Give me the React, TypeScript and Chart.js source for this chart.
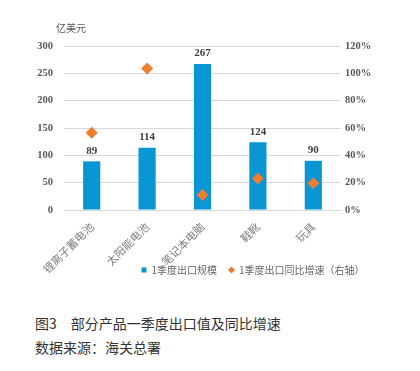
import React, { useEffect, useRef } from 'react';
import { Chart, registerables } from 'chart.js';

Chart.register(...registerables);

const categories = ['锂离子蓄电池', '太阳能电池', '笔记本电脑', '鞋靴', '玩具'];
const exportValues = [89, 114, 267, 124, 90];
const growthRates = [56.5, 103.5, 11, 23, 19.5];
const seriesNames = ['1季度出口规模', '1季度出口同比增速（右轴）'];
const leftAxis = { min: 0, max: 300, step: 50 };
const rightAxis = { min: 0, max: 120, step: 20 };
const unitLabel = '亿美元';
const captionTitle = '图3　部分产品一季度出口值及同比增速';
const captionSource = '数据来源：海关总署';

const SERIF = '"Liberation Serif", "Times New Roman", serif';
const CJK = '"Noto Sans CJK SC", sans-serif';

const barLabelPlugin = {
  id: 'barLabels',
  afterDatasetsDraw(chart: any) {
    const meta = chart.getDatasetMeta(0);
    const ctx = chart.ctx;
    ctx.save();
    ctx.font = `bold 11px ${SERIF}`;
    ctx.fillStyle = '#404040';
    ctx.textAlign = 'center';
    ctx.textBaseline = 'bottom';
    meta.data.forEach((el: any, i: number) => {
      ctx.fillText(String(chart.data.datasets[0].data[i]), el.x, el.y - 5);
    });
    ctx.restore();
  },
};

// shift the built-in legend to the right, as in the reference
const legendShiftPlugin = {
  id: 'legendShift',
  afterLayout(chart: any) {
    if (chart.legend) {
      chart.legend.left += 86;
    }
  },
};

export default function App() {
  const ref = useRef<HTMLCanvasElement>(null);
  useEffect(() => {
    if (!ref.current) return;
    const chart = new Chart(ref.current, {
      type: 'bar',
      data: {
        labels: categories,
        datasets: [
          {
            type: 'bar',
            label: seriesNames[0],
            data: exportValues,
            backgroundColor: '#0A96D4',
            borderWidth: 0,
            barPercentage: 0.31,
            categoryPercentage: 1,
            yAxisID: 'y',
            pointStyle: 'rect',
            order: 2,
          } as any,
          {
            type: 'line',
            label: seriesNames[1],
            data: growthRates,
            showLine: false,
            yAxisID: 'y1',
            backgroundColor: '#ED7D31',
            borderColor: '#ED7D31',
            pointStyle: 'rectRot',
            pointRadius: 6,
            pointBorderWidth: 0,
            order: 1,
          } as any,
        ],
      },
      options: {
        responsive: false,
        animation: false,
        devicePixelRatio: 1,
        layout: { padding: { top: 46, left: 0, right: 0, bottom: 0 } },
        plugins: {
          legend: {
            position: 'bottom',
            labels: {
              usePointStyle: true,
              boxWidth: 5,
              boxHeight: 5,
              padding: 12,
              color: '#666666',
              font: { size: 10, family: CJK },
              sort: (a: any, b: any) => a.datasetIndex - b.datasetIndex,
            },
          },
          tooltip: { enabled: false },
        },
        scales: {
          x: {
            grid: { display: false },
            border: { display: true, color: '#D9D9D9' },
            ticks: {
              minRotation: 45,
              maxRotation: 45,
              color: '#7F7F7F',
              font: { size: 11, family: CJK },
              padding: 2,
            },
            afterFit: (s: any) => {
              s.height = 43;
              s._computeLabelArea = () => undefined;
            },
          },
          y: {
            position: 'left',
            min: leftAxis.min,
            max: leftAxis.max,
            grid: { color: '#D9D9D9', drawTicks: false },
            border: { display: false },
            ticks: {
              stepSize: leftAxis.step,
              padding: 11,
              color: '#595959',
              font: { size: 10.5, family: SERIF, weight: 'bold' },
            },
            afterFit: (s: any) => { s.width = 64; },
          },
          y1: {
            position: 'right',
            min: rightAxis.min,
            max: rightAxis.max,
            grid: { display: false, drawTicks: false },
            border: { display: false },
            ticks: {
              stepSize: rightAxis.step,
              padding: 4,
              color: '#595959',
              font: { size: 10.5, family: SERIF, weight: 'bold' },
              callback: (v: any) => `${v}%`,
            },
            afterFit: (s: any) => { s.width = 79; },
          },
        },
      } as any,
      plugins: [barLabelPlugin, legendShiftPlugin],
    });
    return () => chart.destroy();
  }, []);

  return (
    <div style={{ position: 'absolute', left: 0, top: 0, width: 420, height: 371, background: '#fff' }}>
      <canvas ref={ref} width={420} height={285} style={{ position: 'absolute', left: 0, top: 0 }} />
      <div style={{ position: 'absolute', left: 56, top: 21, fontFamily: CJK, fontSize: 10, color: '#595959', lineHeight: '14px' }}>
        {unitLabel}
      </div>
      <div style={{ position: 'absolute', left: 35, top: 313, fontFamily: CJK, fontSize: 14, color: '#333', lineHeight: '20px', whiteSpace: 'pre' }}>
        {captionTitle}
      </div>
      <div style={{ position: 'absolute', left: 35, top: 337, fontFamily: CJK, fontSize: 14, color: '#333', lineHeight: '20px' }}>
        {captionSource}
      </div>
    </div>
  );
}
